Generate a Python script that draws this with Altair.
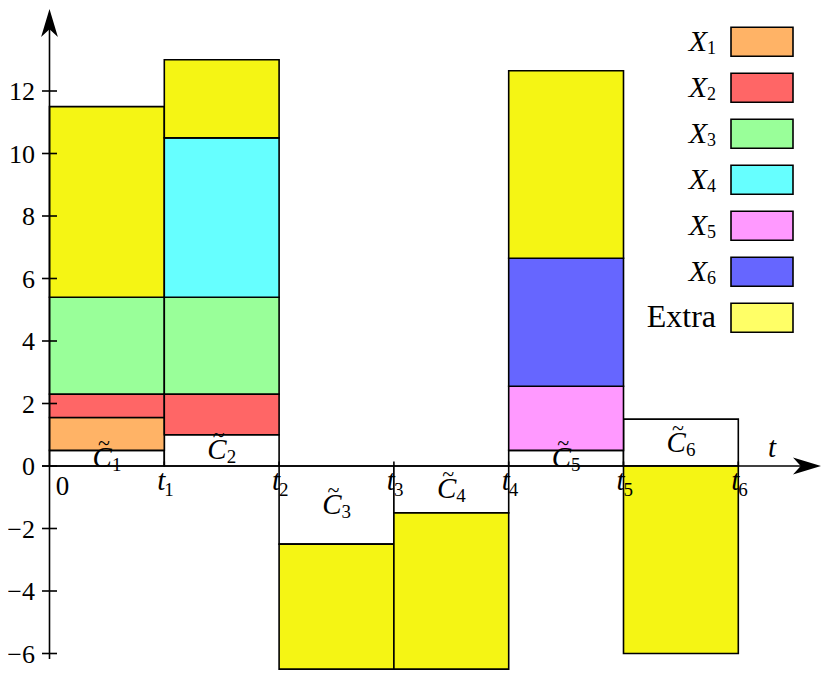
import altair as alt
import pandas as pd

# ---------------- data ----------------
interval_ids = [1, 2, 3, 4, 5, 6]
c_tilde = [0.5, 1.0, -2.5, -1.5, 0.5, 1.5]
x1 = [1.05, 0, 0, 0, 0, 0]
x2 = [0.75, 1.3, 0, 0, 0, 0]
x3 = [3.1, 3.1, 0, 0, 0, 0]
x4 = [0, 5.1, 0, 0, 0, 0]
x5 = [0, 0, 0, 0, 2.05, 0]
x6 = [0, 0, 0, 0, 4.1, 0]
extra = [6.1, 2.5, -4.0, -5.0, 6.0, -6.0]
series_names = ["X1", "X2", "X3", "X4", "X5", "X6", "Extra"]
legend_base = ["X", "X", "X", "X", "X", "X", "Extra"]
legend_sub = ["1", "2", "3", "4", "5", "6", ""]
legend_colors = ["#FFB366", "#FF6666", "#99FF99", "#66FFFF", "#FF99FF", "#6666FF", "#FFFF66"]
bar_colors = ["#FFB366", "#FF6666", "#99FF99", "#66FFFF", "#FF99FF", "#6666FF", "#F5F514"]
y_ticks = [-6, -4, -2, 0, 2, 4, 6, 8, 10, 12]
y_tick_labels = ["\u22126", "\u22124", "\u22122", "0", "2", "4", "6", "8", "10", "12"]
t_ticks = [1, 2, 3, 4, 5, 6]
t_subs = ["1", "2", "3", "4", "5", "6"]

# ---------------- layout helpers ----------------
W, H = 814, 665
XU, YU = 114.8, 31.25           # px per unit
X0_PAGE, Y0_PAGE = 49.5, 466.0  # page position of the origin
XMIN = (8 - X0_PAGE) / XU
XMAX = (8 + W - X0_PAGE) / XU
YMAX = (Y0_PAGE - 8) / YU
YMIN = (Y0_PAGE - 8 - H) / YU


def px2x(p):
    return (p - X0_PAGE) / XU


def px2y(p):
    return (Y0_PAGE - p) / YU


XS = alt.Scale(domain=[XMIN, XMAX], nice=False, zero=False)
YS = alt.Scale(domain=[YMIN, YMAX], nice=False, zero=False)


def ex(f):
    return alt.X(f, type="quantitative", scale=XS, axis=None)


def ey(f):
    return alt.Y(f, type="quantitative", scale=YS, axis=None)


FONT = "Liberation Serif"

# ---------------- rectangles ----------------
rows = []
series_vals = [x1, x2, x3, x4, x5, x6, extra]
for i, c in enumerate(c_tilde):
    rows.append(dict(xa=i, xb=i + 1, ya=0, yb=c, fill="white"))
for i, c in enumerate(c_tilde):
    pos = max(c, 0.0)
    neg = min(c, 0.0)
    for s, vals, col in zip(series_names, series_vals, bar_colors):
        v = vals[i]
        if v > 0:
            rows.append(dict(xa=i, xb=i + 1, ya=pos, yb=pos + v, fill=col))
            pos += v
        elif v < 0:
            rows.append(dict(xa=i, xb=i + 1, ya=neg, yb=neg + v, fill=col))
            neg += v
rect_df = pd.DataFrame(rows)

rects = alt.Chart(rect_df).mark_rect(stroke="black", strokeWidth=1.6).encode(
    x=ex("xa"), x2="xb", y=ey("ya"), y2="yb",
    fill=alt.Fill("fill:N", scale=None),
)

# ---------------- axes ----------------
ARROW = 28
TIP_X = 821
axis_df = pd.DataFrame([
    dict(xa=0, xb=0, ya=px2y(659), yb=px2y(9 + ARROW / 2)),
    dict(xa=px2x(42), xb=px2x(TIP_X - ARROW / 2), ya=0, yb=0),
])
axis_lines = alt.Chart(axis_df).mark_rule(color="black", strokeWidth=1.6).encode(
    x=ex("xa"), x2="xb", y=ey("ya"), y2="yb"
)

up_df = pd.DataFrame([dict(x=0, y=px2y(9 + ARROW / 2))])
right_df = pd.DataFrame([dict(x=px2x(TIP_X - ARROW / 2), y=0)])
up_arrow = alt.Chart(up_df).mark_point(
    shape="M0,-1L0.6,1L0,0.45L-0.6,1Z", size=ARROW * ARROW, filled=True,
    color="black", opacity=1, strokeWidth=0,
).encode(x=ex("x"), y=ey("y"))
right_arrow = alt.Chart(right_df).mark_point(
    shape="M1,0L-1,0.6L-0.45,0L-1,-0.6Z", size=ARROW * ARROW, filled=True,
    color="black", opacity=1, strokeWidth=0,
).encode(x=ex("x"), y=ey("y"))

ytick_df = pd.DataFrame(dict(y=y_ticks, lab=y_tick_labels))
ytick_df["xa"] = px2x(42)
ytick_df["xb"] = px2x(57)
ytick_df["xt"] = px2x(35)
yticks = alt.Chart(ytick_df).mark_rule(color="black", strokeWidth=1.6).encode(
    x=ex("xa"), x2="xb", y=ey("y")
)
ylabels = alt.Chart(ytick_df).mark_text(
    font=FONT, fontSize=26, align="right", baseline="alphabetic", dy=9
).encode(x=ex("xt"), y=ey("y"), text="lab:N")

xtick_df = pd.DataFrame(dict(x=t_ticks, sub=t_subs))
xtick_df["ya"] = 0
xtick_df["yb"] = px2y(461.5)
xticks = alt.Chart(xtick_df).mark_rule(color="black", strokeWidth=1.6).encode(
    x=ex("x"), y=ey("ya"), y2="yb"
)
xlab_t = alt.Chart(xtick_df).mark_text(
    font=FONT, fontSize=29, fontStyle="italic", align="right", baseline="alphabetic", dy=24, dx=1
).encode(x=ex("x"), y=ey("ya"), text=alt.value("t"))
xlab_sub = alt.Chart(xtick_df).mark_text(
    font=FONT, fontSize=19, align="left", baseline="alphabetic", dy=30, dx=0
).encode(x=ex("x"), y=ey("ya"), text="sub:N")
zero_df = pd.DataFrame([dict(x=0, y=0, lab="0")])
xlab_zero = alt.Chart(zero_df).mark_text(
    font=FONT, fontSize=27, align="center", baseline="alphabetic", dx=13, dy=29
).encode(x=ex("x"), y=ey("y"), text="lab:N")

t_df = pd.DataFrame([dict(x=px2x(772), y=px2y(457), lab="t")])
t_label = alt.Chart(t_df).mark_text(
    font=FONT, fontSize=29, fontStyle="italic", align="center", baseline="alphabetic"
).encode(x=ex("x"), y=ey("y"), text="lab:N")

# ---------------- C-tilde labels ----------------
c_df = pd.DataFrame(dict(i=interval_ids, c=c_tilde))
c_df["xc"] = c_df["i"] - 0.5
c_df["yc"] = c_df["c"] / 2
c_df["sub"] = c_df["i"].astype(str)
c_base = alt.Chart(c_df).mark_text(
    font=FONT, fontSize=29, fontStyle="italic", align="right", baseline="alphabetic", dx=5, dy=9
).encode(x=ex("xc"), y=ey("yc"), text=alt.value("C"))
c_tl = alt.Chart(c_df).mark_text(
    font=FONT, fontSize=22, align="center", baseline="alphabetic", dx=-3, dy=-8
).encode(x=ex("xc"), y=ey("yc"), text=alt.value("~"))
c_subl = alt.Chart(c_df).mark_text(
    font=FONT, fontSize=19, align="left", baseline="alphabetic", dx=5, dy=13
).encode(x=ex("xc"), y=ey("yc"), text="sub:N")

# ---------------- legend ----------------
leg_rows = []
for k, (nm, b, s, col) in enumerate(zip(series_names, legend_base, legend_sub, legend_colors)):
    top = 27.3 + 46 * k
    leg_rows.append(dict(name=nm, base=b, sub=s, fill=col,
                         xa=px2x(731), xb=px2x(793), ya=px2y(top), yb=px2y(top + 29),
                         ym=px2y(top + 14.5), xl=px2x(707), xe=px2x(716), xs=px2x(707)))
leg_df = pd.DataFrame(leg_rows)
leg_x = leg_df[leg_df["sub"] != ""]
leg_e = leg_df[leg_df["sub"] == ""]

leg_boxes = alt.Chart(leg_df).mark_rect(stroke="black", strokeWidth=1.6).encode(
    x=ex("xa"), x2="xb", y=ey("ya"), y2="yb", fill=alt.Fill("fill:N", scale=None)
)
leg_xl = alt.Chart(leg_x).mark_text(
    font=FONT, fontSize=30, fontStyle="italic", align="right", baseline="alphabetic", dy=9.5
).encode(x=ex("xl"), y=ey("ym"), text="base:N")
leg_xs = alt.Chart(leg_x).mark_text(
    font=FONT, fontSize=18, align="left", baseline="alphabetic", dy=12.5
).encode(x=ex("xs"), y=ey("ym"), text="sub:N")
leg_el = alt.Chart(leg_e).mark_text(
    font=FONT, fontSize=32, align="right", baseline="alphabetic", dy=9
).encode(x=ex("xe"), y=ey("ym"), text="base:N")

chart = alt.layer(
    rects, axis_lines, up_arrow, right_arrow, yticks, ylabels, xticks,
    xlab_t, xlab_sub, xlab_zero, t_label, c_base, c_tl, c_subl,
    leg_boxes, leg_xl, leg_xs, leg_el,
).properties(
    width=W, height=H, padding=0, autosize="none"
).configure_view(stroke=None)

chart.save("out.html", embed_options={"renderer": "svg", "actions": False})
